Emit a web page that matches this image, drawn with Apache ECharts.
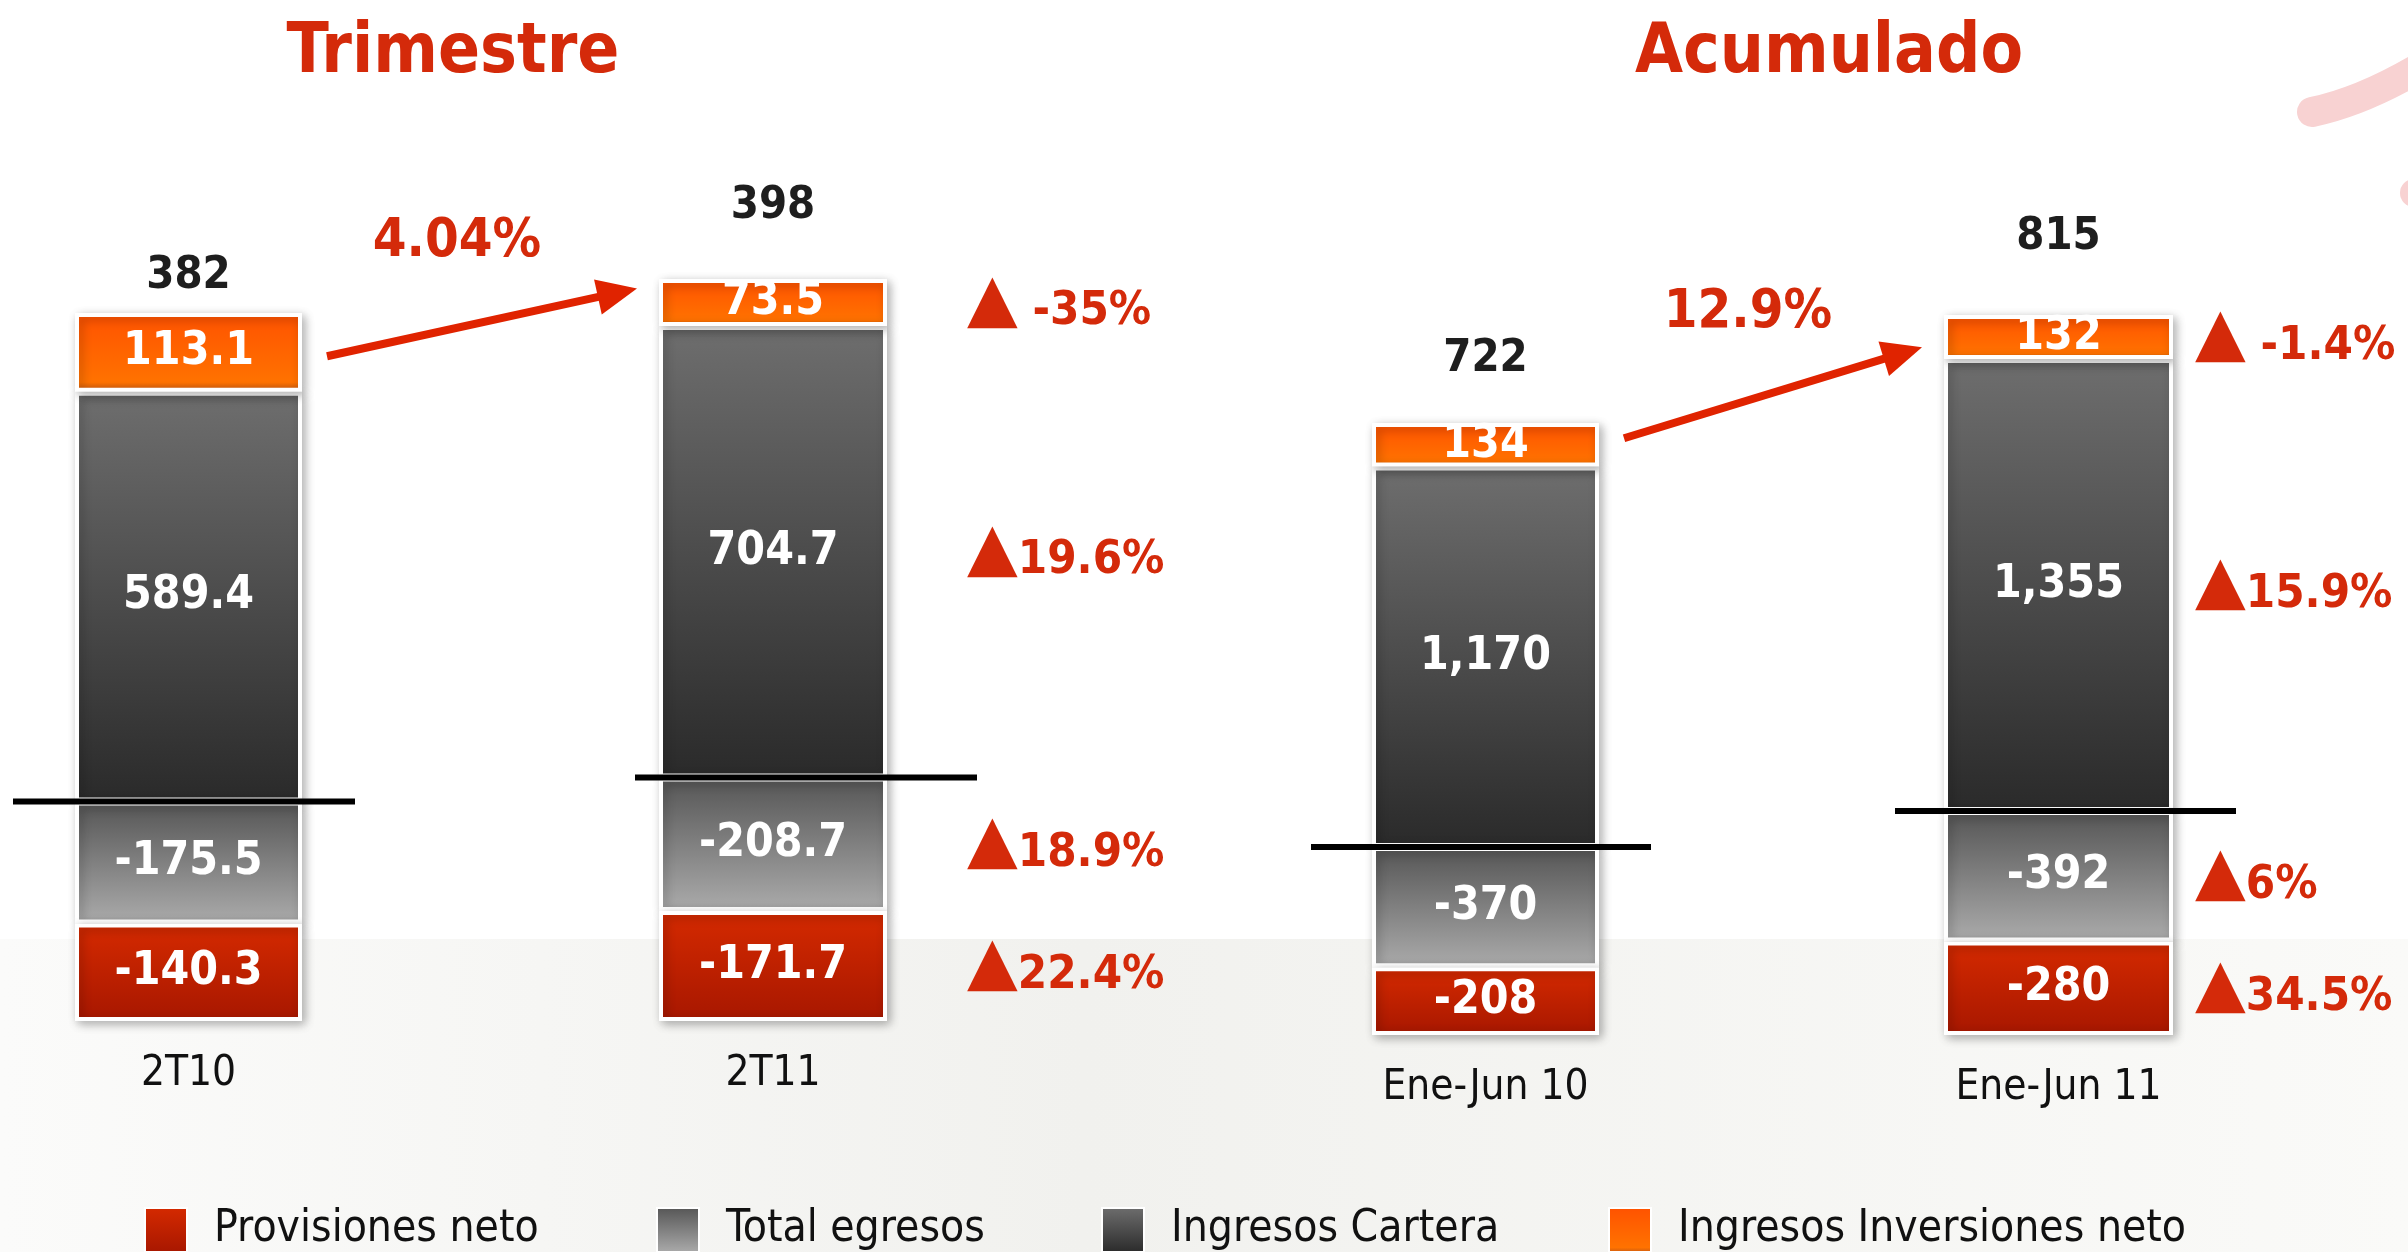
<!DOCTYPE html>
<html>
<head>
<meta charset="utf-8">
<title>Ingresos y egresos</title>
<script src="https://cdn.jsdelivr.net/npm/echarts@6/dist/echarts.min.js"></script>
<style>
  html, body { margin: 0; padding: 0; background: #fff; }
  #main { width: 2408px; height: 1252px; }
</style>
</head>
<body>
<div id="main"></div>
<script>
// datos
const periods = ['2T10', '2T11', 'Ene-Jun 10', 'Ene-Jun 11'];
const ingresosInversiones = [113.1, 73.5, 134, 132];
const ingresosCartera = [589.4, 704.7, 1170, 1355];
const totalEgresos = [-175.5, -208.7, -370, -392];
const provisiones = [-140.3, -171.7, -208, -280];
const totals = [382, 398, 722, 815];
// variacion % contra el periodo anterior
const pctInversiones = [null, -35, null, -1.4];
const pctCartera = [null, 19.6, null, 15.9];
const pctEgresos = [null, 18.9, null, 6];
const pctProvisiones = [null, 22.4, null, 34.5];
const growth = [4.04, 12.9];
const panelTitles = ['Trimestre', 'Acumulado'];
const legendNames = ['Provisiones neto', 'Total egresos', 'Ingresos Cartera', 'Ingresos Inversiones neto'];

// layout (px)
const bars = [
  { left: 75, width: 227, top: 313, bottom: 1021, lineL: 13, lineR: 355, totalGap: 14, pctGap: 0 },
  { left: 659, width: 228, top: 279, bottom: 1021, lineL: 635, lineR: 977, totalGap: 50, pctGap: 80 },
  { left: 1372, width: 227, top: 423, bottom: 1035, lineL: 1311, lineR: 1651, totalGap: 41, pctGap: 0 },
  { left: 1944, width: 229, top: 315, bottom: 1035, lineL: 1895, lineR: 2236, totalGap: 55, pctGap: 22 }
];
const legendLeft = [139, 651, 1096, 1603];
const titleX = [453, 1829];
const arrows = [
  { from: 0, to: 1, fromFrac: 0.45, toFrac: 0.8 },
  { from: 2, to: 3, fromFrac: 0.65, toFrac: 0.27 }
];

const ctx = document.createElement('canvas').getContext('2d');
function pickFont(list) {
  const probe = 'Ingresos Cartera 0123456789 mmwwii';
  ctx.font = '40px monospace';
  const base = ctx.measureText(probe).width;
  for (const f of list) {
    ctx.font = `40px "${f}", monospace`;
    if (ctx.measureText(probe).width !== base) return f;
  }
  return 'sans-serif';
}
const FONT = `'${pickFont(['Liberation Sans Narrow', 'Noto Sans Condensed', 'Noto Sans SemiCondensed',
  'DejaVu Sans Condensed', 'Liberation Sans'])}', sans-serif`;
// tamano de letra que iguala (aprox.) el ancho del texto en la referencia
function fit(text, weight, targetW, maxPx) {
  ctx.font = `${weight} 100px ${FONT}`;
  return Math.min(maxPx, Math.floor(106 * targetW / ctx.measureText(text).width));
}
const FS = {
  title: fit('Trimestre', 'bold', 316, 88),
  total: fit('382', 'bold', 80, 60),
  seg: fit('589.4', 'bold', 124, 60),
  cat: fit('Ene-Jun 10', 'normal', 198, 52),
  pct: fit('19.6%', 'bold', 140, 60),
  growth: fit('4.04%', 'bold', 161, 70),
  legend: fit('Ingresos Inversiones neto', 'normal', 480, 70)
};
const RED = '#d42a0a';

const fmt = v => v.toLocaleString('en-US', { maximumFractionDigits: 1 });
const vgrad = stops => new echarts.graphic.LinearGradient(0, 0, 0, 1,
  stops.map(([o, c]) => ({ offset: o, color: c })));

const segments = [
  { name: 'Ingresos Cartera', values: ingresosCartera, pct: pctCartera,
    color: vgrad([[0, '#6e6e6e'], [1, '#2a2a2a']]) },
  { name: 'Ingresos Inversiones neto', values: ingresosInversiones, pct: pctInversiones,
    color: vgrad([[0, '#ff5200'], [0.88, '#ff7200'], [1, '#c65a14']]) },
  { name: 'Total egresos', values: totalEgresos, pct: pctEgresos,
    color: vgrad([[0, '#555555'], [1, '#ababab']]) },
  { name: 'Provisiones neto', values: provisiones, pct: pctProvisiones,
    color: vgrad([[0, '#d52a00'], [1, '#a71700']]) }
];

const chart = echarts.init(document.getElementById('main'));

const grid = bars.map(b => ({ left: b.left, width: b.width, top: b.top, height: b.bottom - b.top }));
const xAxis = periods.map((p, i) => ({
  type: 'category', gridIndex: i, data: [p],
  axisLine: { show: false }, axisTick: { show: false },
  axisLabel: { fontSize: FS.cat, color: '#111', margin: 32, fontFamily: FONT }
}));
const yAxis = periods.map((p, i) => ({
  type: 'value', gridIndex: i, show: false,
  min: totalEgresos[i] + provisiones[i],
  max: ingresosCartera[i] + ingresosInversiones[i]
}));

const series = [];
periods.forEach((p, i) => {
  const common = {
    type: 'bar', xAxisIndex: i, yAxisIndex: i, barWidth: '100%', barGap: '-100%',
    emphasis: { disabled: true }, silent: true
  };
  segments.forEach((s, k) => {
    series.push({
      ...common, name: s.name, stack: 'v' + i, data: [s.values[i]],
      itemStyle: {
        color: s.color, borderColor: '#fff', borderWidth: 4,
        shadowBlur: 10, shadowColor: 'rgba(0,0,0,0.28)', shadowOffsetX: 3, shadowOffsetY: 3
      },
      label: {
        show: true, position: 'inside', formatter: () => fmt(s.values[i]),
        color: '#fff', fontSize: FS.seg, fontWeight: 'bold', fontFamily: FONT
      }
    });
    if (k === 1) {
      // total sobre la barra
      series.push({
        ...common, name: 'total', stack: 'v' + i, data: [0], z: 3,
        itemStyle: { color: 'transparent', borderWidth: 0 },
        label: {
          show: true, position: 'top', distance: bars[i].totalGap,
          formatter: () => String(totals[i]),
          color: '#1e1e1e', fontSize: FS.total, fontWeight: 'bold', fontFamily: FONT
        }
      });
    }
  });
  if (segments.some(s => s.pct[i] != null)) {
    segments.forEach(s => {
      series.push({
        ...common, name: 'pct', stack: 'p' + i, data: [s.values[i]],
        itemStyle: { color: 'transparent', borderWidth: 0 },
        label: {
          show: true, position: 'right', distance: bars[i].pctGap,
          formatter: () => `{t|▲}{v|${s.pct[i] < 0 ? ' ' : ''}${fmt(s.pct[i])}%}`,
          rich: {
            t: { fontSize: Math.round(FS.pct * 1.4), color: RED, fontFamily: 'DejaVu Sans', verticalAlign: 'bottom' },
            v: { fontSize: FS.pct, fontWeight: 'bold', color: RED, fontFamily: FONT, verticalAlign: 'bottom' }
          }
        }
      });
    });
  }
});

const legend = legendNames.map((n, k) => ({
  data: [n], left: legendLeft[k], top: 1202, selectedMode: false,
  itemWidth: 42, itemHeight: 44, icon: 'rect',
  textStyle: { fontSize: FS.legend, color: '#111', fontFamily: FONT, padding: [0, 0, 0, 22] }
}));

chart.setOption({
  animation: false,
  backgroundColor: '#ffffff',
  grid, xAxis, yAxis, series, legend
});

// anotaciones ligadas a las escalas
const py = (i, v) => chart.convertToPixel({ yAxisIndex: i }, v);
const graphic = [];

graphic.push({
  type: 'rect', z: -10, silent: true,
  shape: { x: 0, y: 939, width: 2408, height: 313 },
  style: {
    fill: new echarts.graphic.LinearGradient(0, 0, 1, 0, [
      { offset: 0, color: '#fbfbfa' }, { offset: 0.45, color: '#f1f1ee' }, { offset: 1, color: '#fafaf8' }
    ])
  }
});
graphic.push({
  type: 'bezierCurve', silent: true, z: -5,
  shape: { x1: 2312, y1: 112, cpx1: 2370, cpy1: 100, x2: 2440, y2: 55 },
  style: { stroke: '#f8d2d2', lineWidth: 30, lineCap: 'round', fill: 'none' }
});
graphic.push({
  type: 'circle', silent: true, z: -5,
  shape: { cx: 2414, cy: 193, r: 14 }, style: { fill: '#f8d2d2' }
});

panelTitles.forEach((t, k) => {
  graphic.push({
    type: 'text', x: titleX[k], y: 54, silent: true,
    style: {
      text: t, align: 'center', verticalAlign: 'middle',
      font: `bold ${FS.title}px ${FONT}`, fill: RED
    }
  });
});

bars.forEach((b, i) => {
  const y0 = py(i, 0);
  graphic.push({
    type: 'line', z: 100, silent: true,
    shape: { x1: b.lineL, y1: y0, x2: b.lineR, y2: y0 },
    style: { stroke: '#000', lineWidth: 6 }
  });
});

arrows.forEach((a, k) => {
  const bf = bars[a.from], bt = bars[a.to];
  const x1 = bf.left + bf.width + 25;
  const y1 = py(a.from, ingresosCartera[a.from] + ingresosInversiones[a.from] * a.fromFrac);
  const x2 = bt.left - 22;
  const y2 = py(a.to, ingresosCartera[a.to] + ingresosInversiones[a.to] * a.toFrac);
  const len = Math.hypot(x2 - x1, y2 - y1);
  const ux = (x2 - x1) / len, uy = (y2 - y1) / len;
  const hl = 40, hw = 18;
  const bx = x2 - ux * hl, by = y2 - uy * hl;
  graphic.push({
    type: 'line', z: 50, silent: true,
    shape: { x1, y1, x2: bx + ux * 4, y2: by + uy * 4 },
    style: { stroke: '#e02300', lineWidth: 8 }
  });
  graphic.push({
    type: 'polygon', z: 50, silent: true,
    shape: { points: [[x2, y2], [bx - uy * hw, by + ux * hw], [bx + uy * hw, by - ux * hw]] },
    style: { fill: '#e02300' }
  });
  graphic.push({
    type: 'text', silent: true, z: 50,
    x: (x1 + x2) / 2 - 25, y: (y1 + y2) / 2 - 80,
    style: {
      text: growth[k] + '%', align: 'center', verticalAlign: 'middle',
      font: `bold ${FS.growth}px ${FONT}`, fill: RED
    }
  });
});

chart.setOption({ graphic });
</script>
</body>
</html>
